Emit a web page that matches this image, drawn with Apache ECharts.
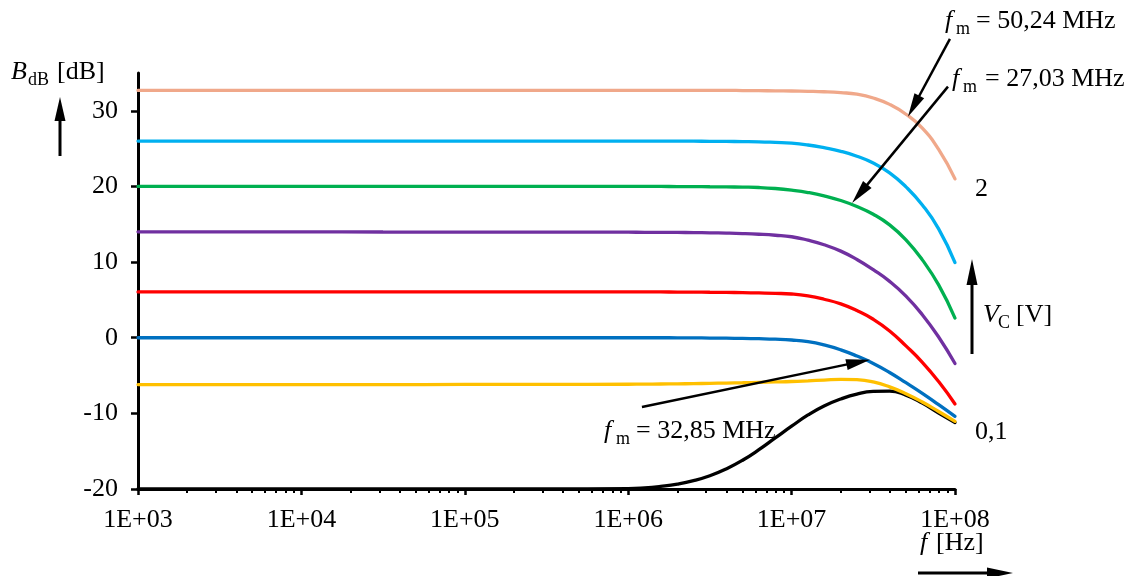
<!DOCTYPE html>
<html>
<head>
<meta charset="utf-8">
<script src="https://cdn.jsdelivr.net/npm/echarts@6/dist/echarts.min.js"></script>
<style>
  html, body { margin: 0; padding: 0; background: #fff; }
  #chart { width: 1130px; height: 576px; }
</style>
</head>
<body>
<div id="chart"></div>
<script>
// Frequency samples [Hz] shared by all gain curves
const freqHz = [
  1e3, 3.16e3, 1e4, 3.16e4, 1e5, 3.16e5,
  1e6, 1.26e6, 1.58e6, 2e6, 2.51e6, 3.16e6, 3.98e6, 5.01e6, 6.31e6, 7.94e6,
  1e7, 1.26e7, 1.58e7, 2e7, 2.51e7, 3.16e7, 3.98e7, 5.01e7, 6.31e7, 7.94e7, 1e8
];

// Gain B_dB [dB] for each control voltage, highest V_C first
const gainVc2 = [
  32.7, 32.7, 32.7, 32.7, 32.7, 32.7,
  32.7, 32.7, 32.7, 32.7, 32.7, 32.7, 32.7, 32.68, 32.66, 32.64,
  32.62, 32.58, 32.52, 32.4, 32.2, 31.7, 30.85, 29.55, 27.7, 24.9, 21.0
];
const gainCurve2 = [
  26.0, 26.0, 26.0, 26.0, 26.0, 26.0,
  26.0, 26.0, 26.0, 25.99, 25.98, 25.97, 25.95, 25.93, 25.9, 25.82,
  25.72, 25.48, 25.12, 24.65, 24.0, 23.1, 21.8, 19.95, 17.55, 14.4, 9.94
];
const gainCurve3 = [
  20.0, 20.0, 20.0, 20.0, 20.0, 20.0,
  20.0, 20.0, 20.0, 19.99, 19.98, 19.96, 19.94, 19.91, 19.86, 19.73,
  19.51, 19.2, 18.76, 18.14, 17.35, 16.33, 14.92, 12.94, 10.29, 6.98, 2.6
];
const gainCurve4 = [
  14.0, 14.0, 14.0, 13.98, 13.97, 13.96,
  13.95, 13.94, 13.93, 13.92, 13.9, 13.87, 13.83, 13.77, 13.68, 13.55,
  13.35, 12.9, 12.3, 11.45, 10.35, 9.0, 7.45, 5.5, 3.05, 0.1, -3.4
];
const gainCurve5 = [
  6.05, 6.05, 6.05, 6.05, 6.05, 6.05,
  6.05, 6.05, 6.05, 6.04, 6.03, 6.01, 5.99, 5.96, 5.92, 5.87,
  5.78, 5.53, 5.09, 4.47, 3.59, 2.44, 0.9, -1.08, -3.25, -5.8, -8.76
];
const gainCurve6 = [
  0, 0, 0, 0, 0, 0,
  0, 0, 0, -0.01, -0.02, -0.04, -0.06, -0.09, -0.13, -0.19,
  -0.3, -0.52, -0.95, -1.6, -2.42, -3.4, -4.6, -5.95, -7.35, -8.85, -10.4
];
const gainCurve7 = [
  -6.2, -6.2, -6.2, -6.2, -6.18, -6.17,
  -6.15, -6.14, -6.12, -6.1, -6.07, -6.03, -5.99, -5.95, -5.9, -5.85,
  -5.79, -5.7, -5.6, -5.5, -5.55, -5.85, -6.5, -7.4, -8.5, -9.75, -11.05
];
const gainVc01 = [
  -20, -20, -20, -20, -20, -19.99,
  -19.95, -19.85, -19.65, -19.35, -18.9, -18.25, -17.35, -16.2, -14.8, -13.25,
  -11.7, -10.21, -9.02, -8.1, -7.45, -7.1, -7.05, -7.6, -8.65, -9.95, -11.2
];

// Axis ticks: decades on x (log10 of Hz), dB on y
const xDecades = [3, 4, 5, 6, 7, 8];
const yTicks = [-20, -10, 0, 10, 20, 30];

// Marked frequencies f_m with the points the arrows touch (log10 Hz, dB) and where they start
const fmLabels = ['50,24 MHz', '27,03 MHz', '32,85 MHz'];
const fmArrowTips  = [[7.712, 29.2], [7.370, 17.8], [7.480, -2.9]];
const fmArrowTails = [[7.969, 39.5], [7.957, 33.2], [6.084, -9.15]];

const SERIF = '"Liberation Serif", "Times New Roman", serif';
const FS = 26;

const curves = [
  { name: 'V_C = 0,1 V', data: gainVc01, color: '#000000', end: '0,1' },
  { name: 'curve 7', data: gainCurve7, color: '#FFC000' },
  { name: 'curve 6', data: gainCurve6, color: '#0070C0' },
  { name: 'curve 5', data: gainCurve5, color: '#FF0000' },
  { name: 'curve 4', data: gainCurve4, color: '#7030A0' },
  { name: 'curve 3', data: gainCurve3, color: '#00B050' },
  { name: 'curve 2', data: gainCurve2, color: '#00B0F0' },
  { name: 'V_C = 2 V', data: gainVc2, color: '#F0A88A', end: '2' }
];

// minor ticks at 2..9 x 10^n
const minorTicks = [];
for (let d = 3; d < 8; d++) {
  for (let k = 2; k <= 9; k++) minorTicks.push(d + Math.log10(k));
}

const chart = echarts.init(document.getElementById('chart'), null, { renderer: 'canvas' });

const series = curves.map(c => ({
  name: c.name,
  type: 'line',
  xAxisIndex: 0,
  data: freqHz.map((f, i) => [Math.log10(f), c.data[i]]),
  smooth: 0.5,
  showSymbol: false,
  symbol: 'none',
  lineStyle: { color: c.color, width: 3.3, cap: 'round' },
  itemStyle: { color: c.color },
  clip: false,
  endLabel: c.end ? {
    show: true,
    formatter: c.end,
    fontFamily: SERIF,
    fontSize: FS,
    color: '#000',
    distance: 8,
    offset: [12, 10]
  } : { show: false }
}));

chart.setOption({
  animation: false,
  backgroundColor: '#fff',
  grid: { left: 138, right: 175, top: 73, bottom: 87, containLabel: false },
  xAxis: [
    {
      type: 'value',
      min: 3, max: 8, interval: 1,
      axisLine: { show: true, onZero: false, lineStyle: { color: '#000', width: 3 } },
      axisTick: { show: true, inside: false, length: 6, lineStyle: { color: '#000', width: 2.5 }, customValues: xDecades },
      axisLabel: {
        customValues: xDecades,
        formatter: v => '1E+0' + Math.round(v),
        fontFamily: SERIF, fontSize: FS, color: '#000', margin: 18
      },
      splitLine: { show: false }
    },
    {
      type: 'value',
      min: 3, max: 8,
      position: 'bottom',
      axisLine: { show: false, onZero: false },
      axisTick: { show: true, inside: false, length: 4, lineStyle: { color: '#000', width: 2 }, customValues: minorTicks },
      axisLabel: { show: false },
      splitLine: { show: false }
    }
  ],
  yAxis: {
    type: 'value',
    min: -20, max: 35,
    axisLine: { show: true, onZero: false, lineStyle: { color: '#000', width: 3 } },
    axisTick: { show: true, inside: false, length: 7, lineStyle: { color: '#000', width: 2.5 }, customValues: yTicks },
    axisLabel: { customValues: yTicks, fontFamily: SERIF, fontSize: FS, color: '#000', margin: 20 },
    splitLine: { show: false }
  },
  series: series
});

// ---- annotations ----
function arrowShapes(p0, p1, headLen, headW, lw) {
  const dx = p1[0] - p0[0], dy = p1[1] - p0[1];
  const len = Math.hypot(dx, dy);
  const ux = dx / len, uy = dy / len;
  const px = -uy, py = ux;
  const bx = p1[0] - ux * headLen, by = p1[1] - uy * headLen;
  return [
    { type: 'line', silent: true, z: 50,
      shape: { x1: p0[0], y1: p0[1], x2: bx + ux * 2, y2: by + uy * 2 },
      style: { stroke: '#000', lineWidth: lw } },
    { type: 'polygon', silent: true, z: 50,
      shape: { points: [[p1[0], p1[1]], [bx + px * headW / 2, by + py * headW / 2], [bx - px * headW / 2, by - py * headW / 2]] },
      style: { fill: '#000' } }
  ];
}

function subLabel(x, y, main, sub, rest, dxSub, dxRest, italicMain) {
  const t = (tx, ty, text, size, italic) => ({
    type: 'text', silent: true, z: 60, x: tx, y: ty,
    style: { text: text, fontFamily: SERIF, fontSize: size, fontStyle: italic ? 'italic' : 'normal',
             fill: '#000', align: 'left', verticalAlign: 'middle' }
  });
  const out = [t(x, y, main, FS, italicMain), t(x + dxRest, y, rest, FS, false)];
  if (sub) out.push(t(x + dxSub, y + 8, sub, 18, false));
  return out;
}

function drawAnnotations() {
  const toPx = p => chart.convertToPixel({ xAxisIndex: 0, yAxisIndex: 0 }, p);
  let els = [];

  // f_m arrows to the curves
  for (let i = 0; i < fmLabels.length; i++) {
    els = els.concat(arrowShapes(toPx(fmArrowTails[i]), toPx(fmArrowTips[i]), 24, 11, 2.5));
  }
  els = els.concat(subLabel(945, 21.5, 'f', 'm', '= ' + fmLabels[0], 11, 31, true));
  els = els.concat(subLabel(952, 79, 'f', 'm', '= ' + fmLabels[1], 11, 33, true));
  els = els.concat(subLabel(604, 431, 'f', 'm', '= ' + fmLabels[2], 12, 32, true));

  // axis titles with their arrows
  els = els.concat(subLabel(11, 72.5, 'B', 'dB', '[dB]', 17, 46, true));
  els = els.concat(arrowShapes([60, 156], [60, 97], 24, 11, 3));

  els = els.concat(subLabel(920, 543, 'f', '', '[Hz]', 0, 16, true));
  els = els.concat(arrowShapes([918, 573], [1013, 573], 26, 11, 3));

  els = els.concat(subLabel(983, 315, 'V', 'C', '[V]', 15, 33, true));
  els = els.concat(arrowShapes([972, 354], [972, 259], 26, 11, 3));

  chart.setOption({ graphic: { elements: els } });
}
drawAnnotations();
</script>
</body>
</html>
